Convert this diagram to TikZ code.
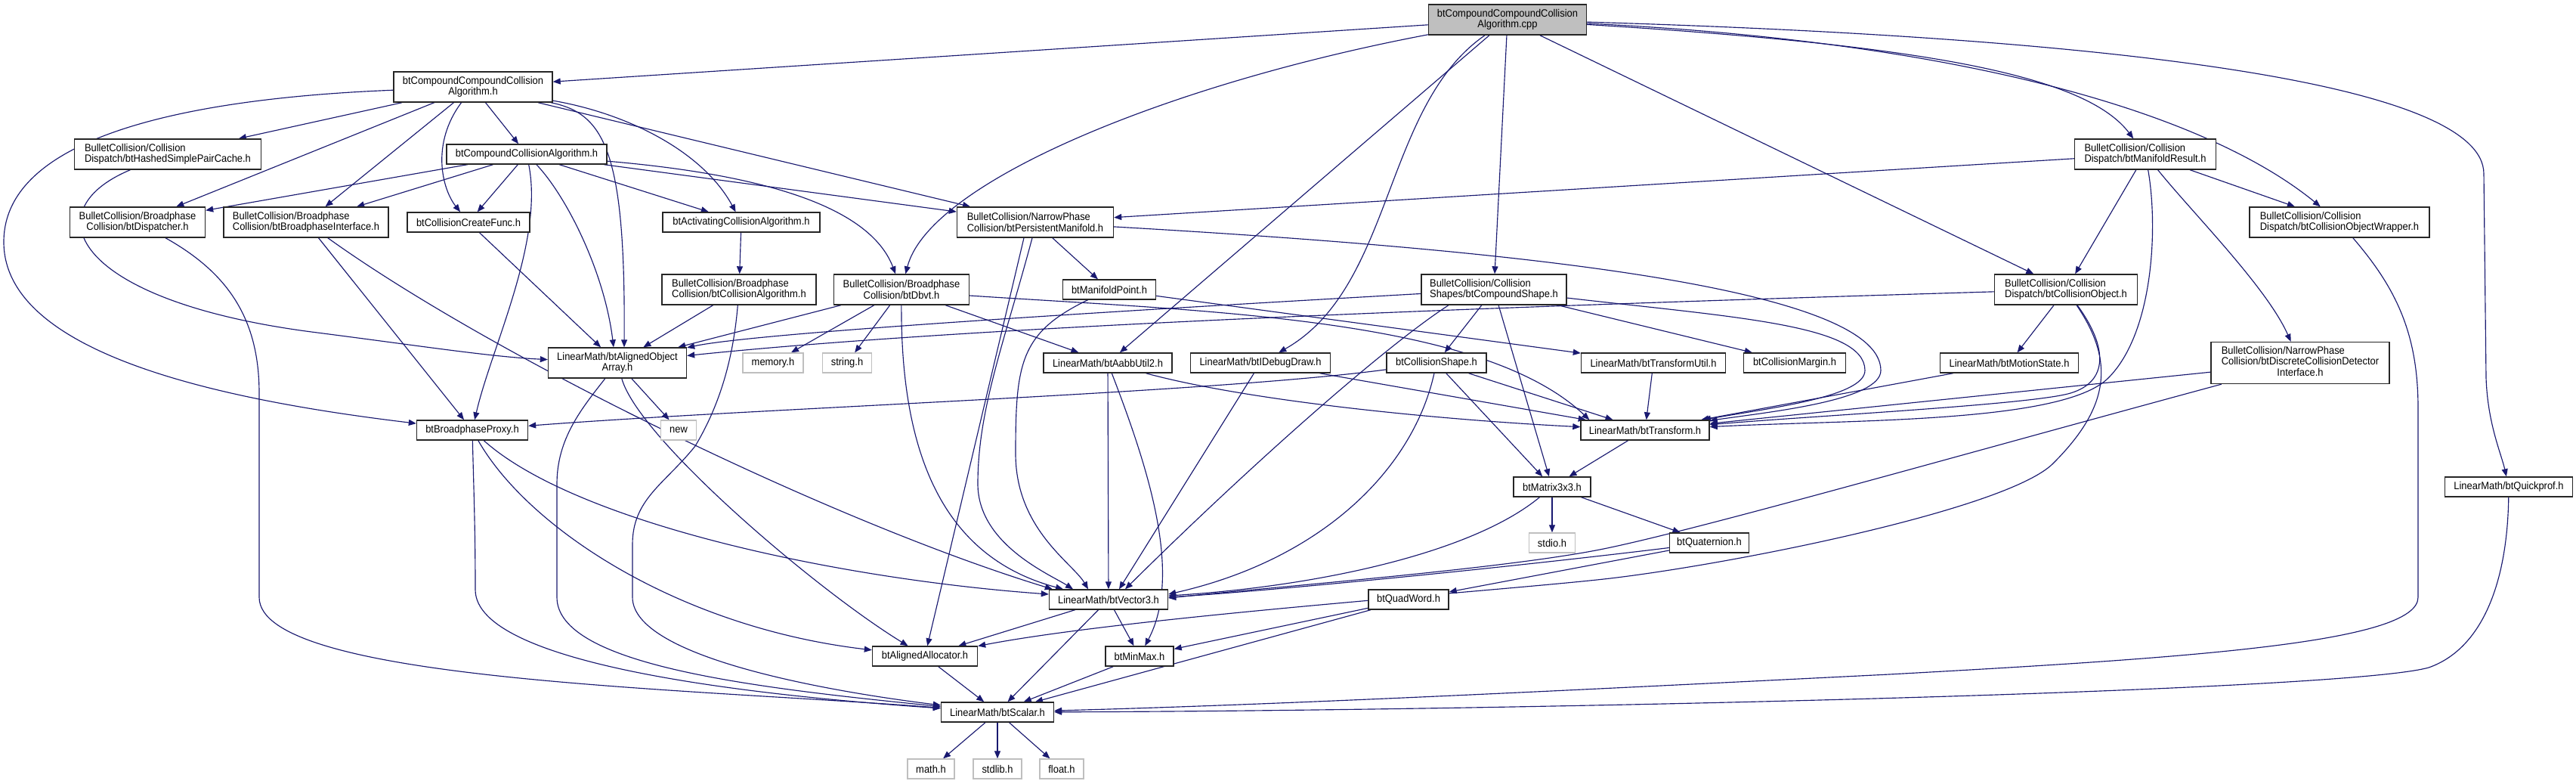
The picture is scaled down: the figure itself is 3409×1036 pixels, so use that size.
\documentclass[tikz,border=0pt]{standalone}
\usepackage{fontspec}
\usepackage{tikz}
\usetikzlibrary{arrows.meta, calc}
\newfontfamily\dotfont{Liberation Sans}[FakeStretch=0.92]
\definecolor{edgeblue}{HTML}{191970}
\definecolor{rootgray}{HTML}{BFBFBF}
\pgfdeclarelayer{background}
\pgfsetlayers{background,main}

\begin{document}
\begin{tikzpicture}[
  x=0.02cm, y=-0.02cm,
  font=\dotfont\fontsize{8pt}{8.1pt}\selectfont,
  box/.style={draw=black!85, line width=0.8pt, fill=white, inner sep=1pt,
              minimum height=0.52cm, align=center},
  twoline/.style={minimum height=0.8cm},
  sysbox/.style={box, draw=rootgray},
  rootbox/.style={box, twoline, fill=rootgray},
  arrow/.style={-{Triangle[length=0.2cm,width=0.16cm]}, edgeblue, line width=0.65pt}
]
\useasboundingbox (0,0) rectangle (3409,1036);

% ── Row 0/1: the file and its direct header ───────────────
\node[rootbox, minimum width=4.18cm]          (cpp)    at (1995,26)  {btCompoundCompoundCollision\\Algorithm.cpp};
\node[box, twoline, minimum width=4.20cm]     (ccah)   at (626,115)  {btCompoundCompoundCollision\\Algorithm.h};

% ── Row 2 ─────────────────────────────────────────────────
\node[box, twoline, align=left, minimum width=4.94cm] (hashed) at (222,204)  {BulletCollision/Collision\\Dispatch/btHashedSimplePairCache.h};
\node[box, minimum width=4.24cm]              (cca)    at (697,204)  {btCompoundCollisionAlgorithm.h};
\node[box, twoline, align=left, minimum width=3.74cm] (mr) at (2839,204) {BulletCollision/Collision\\Dispatch/btManifoldResult.h};

% ── Row 3 ─────────────────────────────────────────────────
\node[box, twoline, minimum width=3.58cm]     (disp)   at (182,294)  {BulletCollision/Broadphase\\Collision/btDispatcher.h};
\node[box, twoline, align=left, minimum width=4.36cm] (bpi) at (405,294) {BulletCollision/Broadphase\\Collision/btBroadphaseInterface.h};
\node[box, minimum width=3.24cm]              (ccf)    at (620,294)  {btCollisionCreateFunc.h};
\node[box, minimum width=4.16cm]              (aca)    at (981,294)  {btActivatingCollisionAlgorithm.h};
\node[box, twoline, align=left, minimum width=4.14cm] (pm) at (1370,294) {BulletCollision/NarrowPhase\\Collision/btPersistentManifold.h};
\node[box, twoline, align=left, minimum width=4.76cm] (cow) at (3096,294) {BulletCollision/Collision\\Dispatch/btCollisionObjectWrapper.h};

% ── Row 4 ─────────────────────────────────────────────────
\node[box, twoline, align=left, minimum width=4.08cm] (bca) at (978,383) {BulletCollision/Broadphase\\Collision/btCollisionAlgorithm.h};
\node[box, twoline, minimum width=3.58cm]     (dbvt)   at (1193,383) {BulletCollision/Broadphase\\Collision/btDbvt.h};
\node[box, minimum width=2.46cm]              (mp)     at (1468,383) {btManifoldPoint.h};
\node[box, twoline, align=left, minimum width=3.84cm] (cs) at (1977,383) {BulletCollision/Collision\\Shapes/btCompoundShape.h};
\node[box, twoline, align=left, minimum width=3.78cm] (co) at (2734,383) {BulletCollision/Collision\\Dispatch/btCollisionObject.h};

% ── Row 5 ─────────────────────────────────────────────────
\node[box, twoline, minimum width=3.66cm]     (aoa)    at (817,480)  {LinearMath/btAlignedObject\\Array.h};
\node[sysbox, minimum width=1.60cm]           (memoryh) at (1023,480) {memory.h};
\node[sysbox, minimum width=1.30cm]           (stringh) at (1121,480) {string.h};
\node[box, minimum width=3.40cm]              (aabb)   at (1466,480) {LinearMath/btAabbUtil2.h};
\node[box, minimum width=3.70cm]              (idd)    at (1668,480) {LinearMath/btIDebugDraw.h};
\node[box, minimum width=2.64cm]              (colshape) at (1901,480) {btCollisionShape.h};
\node[box, minimum width=3.82cm]              (tutil)  at (2188,480) {LinearMath/btTransformUtil.h};
\node[box, minimum width=2.70cm]              (cmargin) at (2375,480) {btCollisionMargin.h};
\node[box, minimum width=3.66cm]              (mstate) at (2659,480) {LinearMath/btMotionState.h};
\node[box, minimum width=4.72cm, minimum height=1.1cm] (dcdi) at (3044,480)
  {\begin{tabular}{@{}l@{}}BulletCollision/NarrowPhase\\Collision/btDiscreteCollisionDetector\\\multicolumn{1}{@{}c@{}}{Interface.h}\end{tabular}};

% ── Rows 6 to 12 ──────────────────────────────────────────
\node[box, minimum width=2.94cm]              (bpp)    at (625,569)  {btBroadphaseProxy.h};
\node[sysbox, minimum width=0.94cm]           (newh)   at (898,569)  {new};
\node[box, minimum width=3.40cm]              (transform) at (2177,569) {LinearMath/btTransform.h};
\node[box, minimum width=2.04cm]              (m33)    at (2054,644) {btMatrix3x3.h};
\node[box, minimum width=3.38cm]              (quickprof) at (3320,644) {LinearMath/btQuickprof.h};
\node[sysbox, minimum width=1.22cm]           (stdio)  at (2054,718) {stdio.h};
\node[box, minimum width=2.10cm]              (quat)   at (2262,718) {btQuaternion.h};
\node[box, minimum width=2.12cm]              (qword)  at (1864,793) {btQuadWord.h};
\node[box, minimum width=3.14cm]              (vec3)   at (1467,793) {LinearMath/btVector3.h};
\node[box, minimum width=2.78cm]              (alloc)  at (1224,868) {btAlignedAllocator.h};
\node[box, minimum width=1.80cm]              (minmax) at (1508,868) {btMinMax.h};
\node[box, minimum width=2.98cm]              (scalar) at (1320,942) {LinearMath/btScalar.h};
\node[sysbox, minimum width=1.24cm]           (mathh)  at (1232,1017) {math.h};
\node[sysbox, minimum width=1.28cm]           (stdlibh) at (1320,1017) {stdlib.h};
\node[sysbox, minimum width=1.16cm]           (floath) at (1405,1017) {float.h};

\begin{pgfonlayer}{background}
\path[fill=white] (0,0) rectangle (3409,1036);

% ── Includes of the .cpp ──────────────────────────────────
\draw[arrow] (cpp) -- (ccah);
\draw[arrow] (cpp) .. controls (1550,110) and (1230,240) .. (dbvt);
\draw[arrow] (cpp) -- (aabb);
\draw[arrow] (cpp) .. controls (1830,140) and (1845,380) .. (idd);
\draw[arrow] (cpp) -- (cs);
\draw[arrow] (cpp) -- (co);
\draw[arrow] (cpp) .. controls (2550,60) and (2760,100) .. (mr);
\draw[arrow] (cpp) .. controls (2600,55) and (2920,150) .. (cow);
\draw[arrow] (cpp) .. controls (2800,50) and (3287,110) .. (3287,230)
             -- (3290,500) .. controls (3292,560) and (3310,600) .. (quickprof);

% ── Includes of the .h ────────────────────────────────────
\draw[arrow] (ccah) .. controls (250,130) and (5,180) .. (5,320)
             .. controls (5,470) and (300,530) .. (bpp);
\draw[arrow] (ccah) -- (hashed);
\draw[arrow] (ccah) -- (disp);
\draw[arrow] (ccah) -- (bpi);
\draw[arrow] (ccah) .. controls (570,190) and (585,250) .. (ccf);
\draw[arrow] (ccah) -- (cca);
\draw[arrow] (ccah) .. controls (800,150) and (828,200) .. ($(aoa.north)+(9,0)$);
\draw[arrow] (ccah) -- (pm);
\draw[arrow] (ccah) .. controls (830,150) and (930,200) .. (aca);

\draw[arrow] (hashed) .. controls (40,280) and (100,400) .. (420,440)
             .. controls (560,458) and (650,472) .. (aoa);

\draw[arrow] (cca) -- (disp);
\draw[arrow] (cca) -- (bpi);
\draw[arrow] (cca) -- (ccf);
\draw[arrow] (cca) .. controls (720,320) and (650,460) .. (bpp);
\draw[arrow] (cca) .. controls (750,260) and (800,360) .. ($(aoa.north)+(-5,0)$);
\draw[arrow] (cca) -- (aca);
\draw[arrow] (cca) .. controls (1000,230) and (1150,270) .. (dbvt);
\draw[arrow] (cca) -- (pm);

% ── Broadphase / narrowphase headers ──────────────────────
\draw[arrow] (disp) .. controls (300,360) and (343,420) .. (343,520)
             -- (343,790) .. controls (343,900) and (900,910) .. (scalar);
\draw[arrow] (bpi) -- (bpp);
\draw[arrow] (bpi) .. controls (650,470) and (1100,690) .. ($(vec3.north west)+(5,0)$);
\draw[arrow] (ccf) -- (aoa);
\draw[arrow] (aca) -- (bca);

\draw[arrow] (pm) -- (mp);
\draw[arrow] ($(pm.south)+(-15,0)$) -- (alloc);
\draw[arrow] ($(pm.south)+(-4,0)$) .. controls (1330,450) and (1294,540) .. (1294,640)
             .. controls (1294,720) and (1390,760) .. ($(vec3.north)+(-47,0)$);
\draw[arrow] (pm) .. controls (2000,330) and (2489,380) .. (2489,490)
             .. controls (2489,530) and (2340,545) .. (transform);

\draw[arrow] (bca) -- (aoa);
\draw[arrow] (bca) .. controls (970,480) and (950,540) .. (920,590)
             .. controls (880,640) and (837,660) .. (837,720)
             -- (837,790) .. controls (837,870) and (1100,915) .. (scalar);

\draw[arrow] (dbvt) -- (aoa);
\draw[arrow] (dbvt) -- (memoryh);
\draw[arrow] (dbvt) -- (stringh);
\draw[arrow] (dbvt) .. controls (1192,620) and (1260,740) .. ($(vec3.north)+(-60,0)$);
\draw[arrow] (dbvt) -- (aabb);
\draw[arrow] ($(dbvt.east)+(0,8)$) .. controls (1600,412) and (1960,420) .. ($(transform.north west)+(12,0)$);

\draw[arrow] (mp) .. controls (1350,440) and (1344,480) .. (1344,600)
             .. controls (1344,700) and (1420,745) .. ($(vec3.north)+(-27,0)$);
\draw[arrow] (mp) -- (tutil);

% ── Collision shapes and objects ──────────────────────────
\draw[arrow] (cs) .. controls (1500,410) and (1000,440) .. (aoa);
\draw[arrow] ($(cs.south)+(-60,0)$) .. controls (1830,460) and (1650,620) .. ($(vec3.north)+(22,0)$);
\draw[arrow] (cs) -- (colshape);
\draw[arrow] (cs) -- (m33);
\draw[arrow] (cs) .. controls (2300,420) and (2468,430) .. (2468,490)
             .. controls (2468,525) and (2340,540) .. (transform);
\draw[arrow] (cs) -- (cmargin);

\draw[arrow] (co) .. controls (2000,405) and (1300,430) .. (aoa);
\draw[arrow] (co) -- (mstate);
\draw[arrow] (co) .. controls (2790,460) and (2790,505) .. (2740,520)
             .. controls (2690,535) and (2400,550) .. (transform);
\draw[arrow] (co) .. controls (2800,480) and (2790,540) .. (2717,613)
             .. controls (2657,673) and (2300,745) .. (2131,765)
             .. controls (1994,781) and (1500,815) .. (alloc);

\draw[arrow] (mr) -- (pm);
\draw[arrow] (mr) -- (co);
\draw[arrow] (mr) .. controls (2856,300) and (2850,440) .. (2790,500)
             .. controls (2730,560) and (2450,555) .. (transform);
\draw[arrow] (mr) .. controls (2900,280) and (3000,380) .. (dcdi);
\draw[arrow] (mr) -- (cow);

\draw[arrow] (cow) .. controls (3170,380) and (3200,440) .. (3200,540)
             -- (3200,790) .. controls (3200,850) and (2900,870) .. (2500,892)
             .. controls (2100,912) and (1700,932) .. (scalar);

% ── LinearMath ────────────────────────────────────────────
\draw[arrow] (aoa) -- (newh);
\draw[arrow] (aoa) .. controls (845,580) and (1080,780) .. (alloc);
\draw[arrow] (aoa) .. controls (770,540) and (737,580) .. (737,640)
             -- (737,790) .. controls (737,880) and (1000,910) .. (scalar);

\draw[arrow] (aabb) -- (vec3);
\draw[arrow] (aabb) .. controls (1520,620) and (1565,760) .. (minmax);
\draw[arrow] (aabb) .. controls (1650,530) and (1900,555) .. (transform);
\draw[arrow] (idd) -- ($(vec3.north)+(14,0)$);
\draw[arrow] (idd) -- (transform);

\draw[arrow] (colshape) .. controls (1600,520) and (1000,540) .. (bpp);
\draw[arrow] (colshape) .. controls (1870,620) and (1750,740) .. ($(vec3.east)+(0,-7)$);
\draw[arrow] (colshape) -- (m33);
\draw[arrow] (colshape) -- (transform);
\draw[arrow] (tutil) -- (transform);
\draw[arrow] (mstate) -- (transform);
\draw[arrow] (dcdi) -- (transform);
\draw[arrow] (dcdi) .. controls (2600,600) and (2250,700) .. (2122,726)
             .. controls (1994,752) and (1700,775) .. ($(vec3.east)+(0,-2)$);

\draw[arrow] (bpp) .. controls (627,650) and (629,700) .. (629,780)
             .. controls (629,880) and (1000,920) .. (scalar);
\draw[arrow] (bpp) .. controls (700,700) and (900,830) .. (alloc);
\draw[arrow] (bpp) .. controls (760,690) and (1100,765) .. ($(vec3.west)+(0,-7)$);

\draw[arrow] (transform) -- (m33);
\draw[arrow] (quickprof) .. controls (3318,780) and (3280,860) .. (3214,883)
             .. controls (3100,915) and (2000,940) .. (scalar);
\draw[arrow] (m33) .. controls (1950,730) and (1750,775) .. ($(vec3.east)+(0,-5)$);
\draw[arrow] (m33) -- (stdio);
\draw[arrow] (m33) -- (quat);
\draw[arrow] (quat) .. controls (2000,750) and (1700,780) .. ($(vec3.east)+(0,-3)$);
\draw[arrow] (quat) -- (qword);
\draw[arrow] (qword) -- (minmax);
\draw[arrow] (qword) -- (scalar);
\draw[arrow] (vec3) -- (alloc);
\draw[arrow] (vec3) -- (scalar);
\draw[arrow] (vec3) -- (minmax);
\draw[arrow] (alloc) -- (scalar);
\draw[arrow] (minmax) -- (scalar);
\draw[arrow] (scalar) -- (mathh);
\draw[arrow] (scalar) -- (stdlibh);
\draw[arrow] (scalar) -- (floath);
\end{pgfonlayer}

\end{tikzpicture}
\end{document}
